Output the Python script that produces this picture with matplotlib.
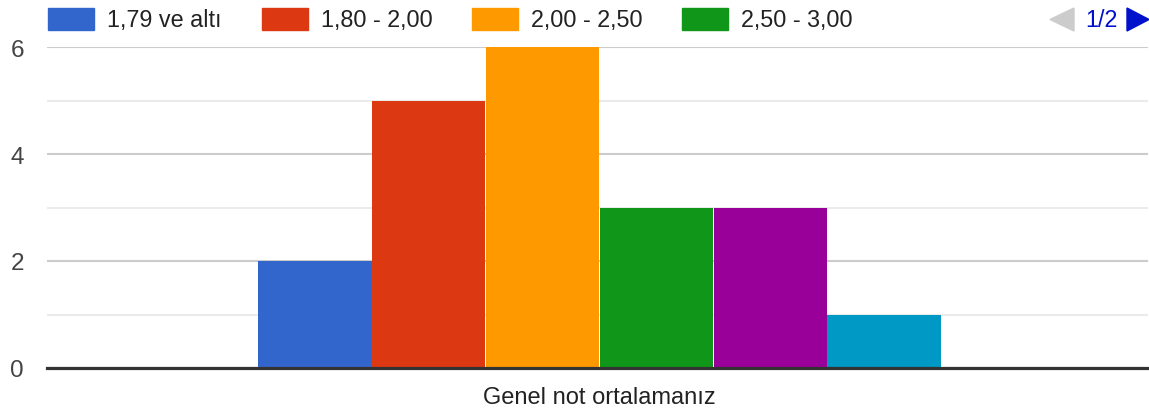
import matplotlib
matplotlib.use("Agg")
import matplotlib.pyplot as plt
from matplotlib.patches import Rectangle, Polygon

# ---- data ----
series_names = ["1,79 ve altı", "1,80 - 2,00", "2,00 - 2,50", "2,50 - 3,00", "3,00 - 3,50", "3,50 ve üstü"]
series_values = [2, 5, 6, 3, 3, 1]
series_colors = ["#3366cc", "#dc3912", "#ff9900", "#109618", "#990099", "#0099c6"]
category = "Genel not ortalamanız"
y_major = [0, 2, 4, 6]
y_minor = [1, 3, 5]
legend_page = "1/2"
legend_visible = 4

W, H = 1149, 414
plt.rcParams['font.family'] = ['Liberation Sans', 'DejaVu Sans']
fig = plt.figure(figsize=(W / 100, H / 100), dpi=100)

L, R, T, B = 47, 1148, 48, 369
ax = fig.add_axes([L / W, 1 - B / H, (R - L) / W, (B - T) / H])

n = len(series_values)
bw = 113.8 / (R - L)
for i, (v, c) in enumerate(zip(series_values, series_colors)):
    ax.bar((i - (n - 1) / 2) * bw, v, width=bw * 0.993, color=c, zorder=3, linewidth=0)

ax.set_xlim(-552.5 / (R - L), 548.5 / (R - L))
ax.set_ylim(0, 6)
ax.set_yticks(y_major)
ax.set_yticks(y_minor, minor=True)
ax.grid(axis='y', which='major', color='#cccccc', linewidth=1.5, zorder=0)
ax.grid(axis='y', which='minor', color='#ebebeb', linewidth=1.5, zorder=0)
ax.axhline(0, color='#333333', linewidth=2.3, zorder=4, clip_on=False)
ax.tick_params(axis='y', which='both', length=0, pad=16.5, labelsize=17.5, labelcolor='#444444')
ax.set_xticks([0])
ax.set_xticklabels([category], fontsize=17, color='#222222')
ax.tick_params(axis='x', length=0, pad=13)
for s in ax.spines.values():
    s.set_visible(False)

# legend (first page)
sw_x = [48, 262, 472, 682]
for i in range(legend_visible):
    x0 = sw_x[i]
    fig.patches.append(Rectangle((x0 / W, 1 - 31 / H), 46 / W, 22 / H,
                                 transform=fig.transFigure, color=series_colors[i], figure=fig))
    fig.text((x0 + 59) / W, 1 - 20.5 / H, series_names[i], fontsize=16.8, color='#222222',
             va='center', ha='left')

# pagination
fig.patches.append(Polygon([(1074 / W, 1 - 9 / H), (1074 / W, 1 - 32 / H), (1050 / W, 1 - 20.5 / H)],
                           closed=True, transform=fig.transFigure, color='#cccccc', figure=fig))
fig.text(1101 / W, 1 - 20.5 / H, legend_page, fontsize=16.8, color='#0011cc', va='center', ha='center')
fig.patches.append(Polygon([(1127 / W, 1 - 9 / H), (1127 / W, 1 - 32 / H), (1149 / W, 1 - 20.5 / H)],
                           closed=True, transform=fig.transFigure, color='#0011cc', figure=fig))

fig.savefig("out.png", dpi=100)
